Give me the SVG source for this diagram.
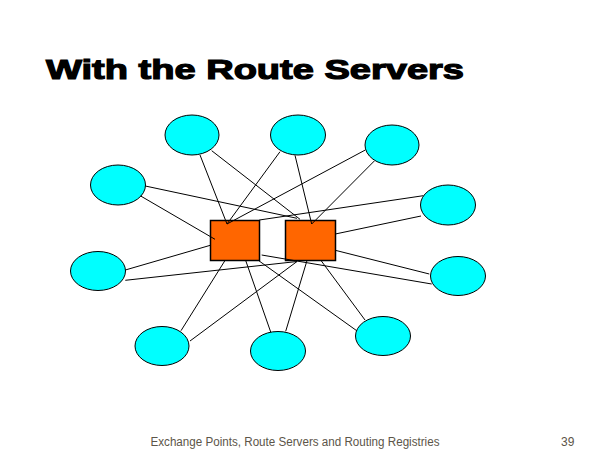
<svg xmlns="http://www.w3.org/2000/svg" width="600" height="450" viewBox="0 0 600 450">
<style>
.as{fill:#00FFFF;stroke:#000;stroke-width:1}
.rs{fill:#FF6600;stroke:#000;stroke-width:1.5}
.ln{stroke:#000;stroke-width:1;fill:none}
.title{font-family:"Liberation Sans",Arial,sans-serif;font-weight:bold;font-size:28px;fill:#000;stroke:#000;stroke-width:1.2}
.foot{font-family:"Liberation Sans",Arial,sans-serif;font-size:12px;fill:#5c5549}
</style>
<rect width="600" height="450" fill="#fff"/>
<text class="title" x="46" y="79" textLength="418" lengthAdjust="spacingAndGlyphs">With the Route Servers</text>
<g id="nodes-as">
<g id="as-top-left"><ellipse class="as" cx="192" cy="135" rx="27" ry="20"/></g>
<g id="as-top-mid"><ellipse class="as" cx="298" cy="135" rx="27.5" ry="20"/></g>
<g id="as-top-right"><ellipse class="as" cx="392" cy="145" rx="27" ry="20"/></g>
<g id="as-left"><ellipse class="as" cx="118" cy="185" rx="27.5" ry="20"/></g>
<g id="as-right"><ellipse class="as" cx="448" cy="205" rx="27.5" ry="20"/></g>
<g id="as-far-left"><ellipse class="as" cx="98" cy="271" rx="27.5" ry="19.5"/></g>
<g id="as-far-right"><ellipse class="as" cx="458" cy="276" rx="27.5" ry="19.5"/></g>
<g id="as-bottom-left"><ellipse class="as" cx="162" cy="346" rx="27" ry="19.5"/></g>
<g id="as-bottom-mid"><ellipse class="as" cx="278" cy="351" rx="27.5" ry="19.5"/></g>
<g id="as-bottom-right"><ellipse class="as" cx="383" cy="336" rx="27.5" ry="19.5"/></g>
</g>
<g id="servers">
<g id="rs1"><rect class="rs" x="210.5" y="220.5" width="49" height="40"/></g>
<g id="rs2"><rect class="rs" x="285.5" y="220.5" width="50" height="40"/></g>
</g>
<g id="connectors" class="ln">
<line x1="200" y1="155" x2="227" y2="224"/>
<line x1="211.7" y1="150.7" x2="300" y2="219.3"/>
<line x1="280" y1="151.7" x2="227" y2="224"/>
<line x1="295" y1="155.3" x2="311.7" y2="224"/>
<line x1="365.3" y1="150" x2="227" y2="224"/>
<line x1="374.3" y1="161" x2="311.7" y2="224"/>
<line x1="145.3" y1="186" x2="297" y2="218.3"/>
<line x1="140.7" y1="196" x2="215" y2="239.3"/>
<line x1="423.3" y1="195.7" x2="259.3" y2="220"/>
<line x1="421" y1="216" x2="335.3" y2="234"/>
<line x1="125.3" y1="270" x2="210.3" y2="245.3"/>
<line x1="125.3" y1="280.3" x2="297" y2="261.5"/>
<line x1="429.3" y1="274" x2="335.3" y2="250.3"/>
<line x1="431.7" y1="284" x2="261.7" y2="255"/>
<line x1="181" y1="330.7" x2="225" y2="260.5"/>
<line x1="190" y1="341" x2="297" y2="261.5"/>
<line x1="270.7" y1="332" x2="245.7" y2="260.5"/>
<line x1="285.7" y1="331.3" x2="307" y2="260.5"/>
<line x1="356.7" y1="330.7" x2="258.5" y2="260.5"/>
<line x1="365" y1="320" x2="321" y2="260.5"/>
</g>
<text class="foot" x="150.5" y="445.5" textLength="289" lengthAdjust="spacingAndGlyphs">Exchange Points, Route Servers and Routing Registries</text>
<text class="foot" x="561" y="445.5">39</text>
</svg>
